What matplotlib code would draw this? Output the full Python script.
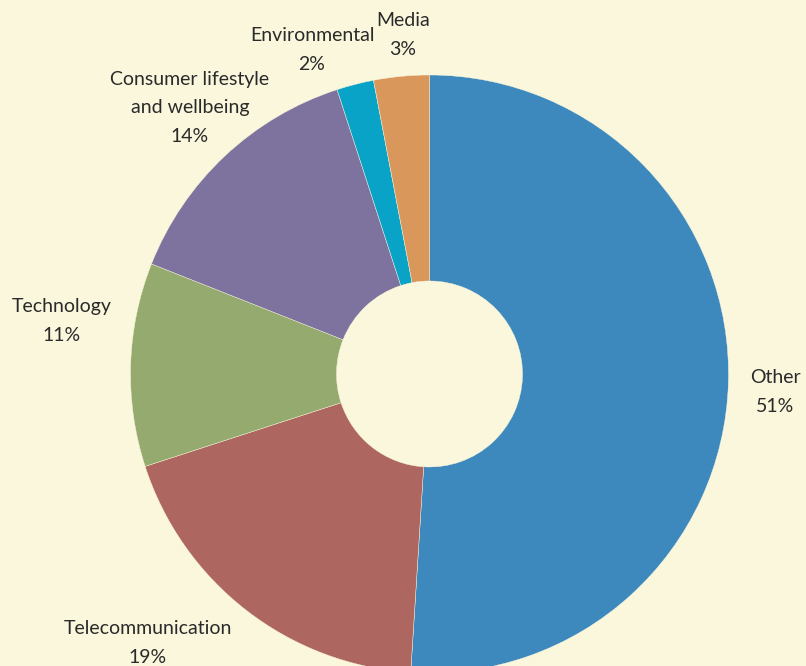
import matplotlib.pyplot as plt

# shares of the donut, clockwise from the top
labels = ['Other', 'Telecommunication', 'Technology',
          'Consumer lifestyle\nand wellbeing', 'Environmental', 'Media']
values = [51, 19, 11, 14, 2, 3]
colors = ['#3d88bc', '#ad6660', '#94aa6e', '#7d739e', '#0aa3c8', '#d9975c']

# label block centres in pixels (x from left, y from top)
label_pos = [(775, 392), (148, 643), (62, 321), (190, 108), (312, 50), (403, 35)]

bg = '#faf7dc'
W, H = 806, 666

fig = plt.figure(figsize=(W / 100, H / 100), dpi=100, facecolor=bg)
ax = fig.add_axes([0, 0, 1, 1])
ax.set_facecolor(bg)

cx, cy, r = 429.5, H - 374, 299
hole = 93

ax.pie(values, colors=colors, startangle=90, counterclock=False,
       center=(cx, cy), radius=r,
       wedgeprops=dict(width=r - hole, edgecolor=bg, linewidth=0.3))

for lab, v, (x, y) in zip(labels, values, label_pos):
    ax.text(x, H - y, f'{lab}\n{v}%', ha='center', va='center',
            fontsize=14, family='Lato', color='#2a2a2a', linespacing=1.85)

ax.set_xlim(0, W)
ax.set_ylim(0, H)
ax.set_aspect('equal')
ax.axis('off')

fig.savefig('out.png', dpi=100, facecolor=bg)
